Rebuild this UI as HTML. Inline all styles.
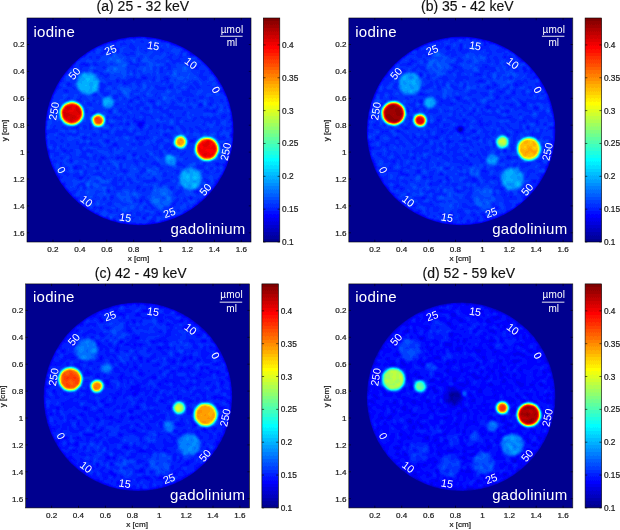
<!DOCTYPE html><html><head><meta charset="utf-8"><style>html,body{margin:0;padding:0;background:#fff;}body{width:620px;height:530px;overflow:hidden;}svg{display:block;will-change:transform;filter:blur(0.3px);}</style></head><body>
<svg width="620" height="530" viewBox="0 0 620 530">
<defs>
<filter id="jet" x="-5%" y="-5%" width="110%" height="110%" color-interpolation-filters="sRGB">
<feTurbulence type="fractalNoise" baseFrequency="0.3" numOctaves="1" seed="7" result="n"/>
<feColorMatrix in="n" type="matrix" values="0 0 0 0 1  1 0 0 0 0  0 0 0 0 0  0 0 0 0 1" result="n2"/>
<feComposite in="SourceGraphic" in2="n2" operator="arithmetic" k1="1" result="p"/>
<feColorMatrix in="SourceGraphic" type="matrix" values="0 0 0 0 0  0 0 0 0 0  0 1 0 0 0  0 0 0 0 1" result="bm"/>
<feComposite in="p" in2="bm" operator="arithmetic" k2="1" k3="1" result="q"/>
<feColorMatrix in="q" type="matrix" values="1 0.25 -0.125 0 0  1 0.25 -0.125 0 0  1 0.25 -0.125 0 0  0 0 0 0 1" result="r"/>
<feGaussianBlur in="r" stdDeviation="1.85"/>
<feComponentTransfer><feFuncR type="discrete" tableValues="0.0000 0.0000 0.0000 0.0000 0.0000 0.0000 0.0000 0.0000 0.0000 0.0000 0.0000 0.0000 0.0000 0.0000 0.0000 0.0000 0.0000 0.0000 0.0000 0.0000 0.0000 0.0000 0.0000 0.0000 0.0625 0.1250 0.1875 0.2500 0.3125 0.3750 0.4375 0.5000 0.5625 0.6250 0.6875 0.7500 0.8125 0.8750 0.9375 1.0000 1.0000 1.0000 1.0000 1.0000 1.0000 1.0000 1.0000 1.0000 1.0000 1.0000 1.0000 1.0000 1.0000 1.0000 1.0000 1.0000 0.9375 0.8750 0.8125 0.7500 0.6875 0.6250 0.5625 0.5000"/><feFuncG type="discrete" tableValues="0.0000 0.0000 0.0000 0.0000 0.0000 0.0000 0.0000 0.0000 0.0625 0.1250 0.1875 0.2500 0.3125 0.3750 0.4375 0.5000 0.5625 0.6250 0.6875 0.7500 0.8125 0.8750 0.9375 1.0000 1.0000 1.0000 1.0000 1.0000 1.0000 1.0000 1.0000 1.0000 1.0000 1.0000 1.0000 1.0000 1.0000 1.0000 1.0000 1.0000 0.9375 0.8750 0.8125 0.7500 0.6875 0.6250 0.5625 0.5000 0.4375 0.3750 0.3125 0.2500 0.1875 0.1250 0.0625 0.0000 0.0000 0.0000 0.0000 0.0000 0.0000 0.0000 0.0000 0.0000"/><feFuncB type="discrete" tableValues="0.5625 0.6250 0.6875 0.7500 0.8125 0.8750 0.9375 1.0000 1.0000 1.0000 1.0000 1.0000 1.0000 1.0000 1.0000 1.0000 1.0000 1.0000 1.0000 1.0000 1.0000 1.0000 1.0000 1.0000 0.9375 0.8750 0.8125 0.7500 0.6875 0.6250 0.5625 0.5000 0.4375 0.3750 0.3125 0.2500 0.1875 0.1250 0.0625 0.0000 0.0000 0.0000 0.0000 0.0000 0.0000 0.0000 0.0000 0.0000 0.0000 0.0000 0.0000 0.0000 0.0000 0.0000 0.0000 0.0000 0.0000 0.0000 0.0000 0.0000 0.0000 0.0000 0.0000 0.0000"/></feComponentTransfer>
</filter>
<filter id="jetc" x="0" y="0" width="1" height="1" color-interpolation-filters="sRGB">
<feComponentTransfer><feFuncR type="discrete" tableValues="0.0000 0.0000 0.0000 0.0000 0.0000 0.0000 0.0000 0.0000 0.0000 0.0000 0.0000 0.0000 0.0000 0.0000 0.0000 0.0000 0.0000 0.0000 0.0000 0.0000 0.0000 0.0000 0.0000 0.0000 0.0625 0.1250 0.1875 0.2500 0.3125 0.3750 0.4375 0.5000 0.5625 0.6250 0.6875 0.7500 0.8125 0.8750 0.9375 1.0000 1.0000 1.0000 1.0000 1.0000 1.0000 1.0000 1.0000 1.0000 1.0000 1.0000 1.0000 1.0000 1.0000 1.0000 1.0000 1.0000 0.9375 0.8750 0.8125 0.7500 0.6875 0.6250 0.5625 0.5000"/><feFuncG type="discrete" tableValues="0.0000 0.0000 0.0000 0.0000 0.0000 0.0000 0.0000 0.0000 0.0625 0.1250 0.1875 0.2500 0.3125 0.3750 0.4375 0.5000 0.5625 0.6250 0.6875 0.7500 0.8125 0.8750 0.9375 1.0000 1.0000 1.0000 1.0000 1.0000 1.0000 1.0000 1.0000 1.0000 1.0000 1.0000 1.0000 1.0000 1.0000 1.0000 1.0000 1.0000 0.9375 0.8750 0.8125 0.7500 0.6875 0.6250 0.5625 0.5000 0.4375 0.3750 0.3125 0.2500 0.1875 0.1250 0.0625 0.0000 0.0000 0.0000 0.0000 0.0000 0.0000 0.0000 0.0000 0.0000"/><feFuncB type="discrete" tableValues="0.5625 0.6250 0.6875 0.7500 0.8125 0.8750 0.9375 1.0000 1.0000 1.0000 1.0000 1.0000 1.0000 1.0000 1.0000 1.0000 1.0000 1.0000 1.0000 1.0000 1.0000 1.0000 1.0000 1.0000 0.9375 0.8750 0.8125 0.7500 0.6875 0.6250 0.5625 0.5000 0.4375 0.3750 0.3125 0.2500 0.1875 0.1250 0.0625 0.0000 0.0000 0.0000 0.0000 0.0000 0.0000 0.0000 0.0000 0.0000 0.0000 0.0000 0.0000 0.0000 0.0000 0.0000 0.0000 0.0000 0.0000 0.0000 0.0000 0.0000 0.0000 0.0000 0.0000 0.0000"/></feComponentTransfer>
</filter>
<linearGradient id="cbg" x1="0" y1="1" x2="0" y2="0"><stop offset="0" stop-color="#000"/><stop offset="1" stop-color="#fff"/></linearGradient>
<clipPath id="clp0"><rect x="27" y="18" width="224" height="224"/></clipPath>
<clipPath id="cir0"><circle cx="139.3" cy="130.9" r="94.3"/></clipPath>
<clipPath id="clp1"><rect x="348.8" y="18" width="224" height="224"/></clipPath>
<clipPath id="cir1"><circle cx="461.1" cy="130.9" r="94.3"/></clipPath>
<clipPath id="clp2"><rect x="25.6" y="283.9" width="224" height="224"/></clipPath>
<clipPath id="cir2"><circle cx="137.9" cy="396.8" r="94.3"/></clipPath>
<clipPath id="clp3"><rect x="348.8" y="283.9" width="224" height="224"/></clipPath>
<clipPath id="cir3"><circle cx="461.1" cy="396.8" r="94.3"/></clipPath>
</defs>
<g clip-path="url(#clp0)"><rect x="27" y="18" width="224" height="224" fill="#00008f"/><g clip-path="url(#cir0)"><g filter="url(#jet)">
<rect x="17" y="8" width="244" height="244" fill="#000"/>
<circle cx="139.3" cy="130.9" r="94.3" fill="#29ff00"/>
<circle cx="140.8" cy="123.2" r="4" fill="#1cff00"/>
<circle cx="71.79" cy="113.36" r="11.2" fill="#e6ff00"/>
<circle cx="98.29" cy="120.32" r="5.8" fill="#d0ff00"/>
<circle cx="207.01" cy="148.84" r="11.2" fill="#e0ff00"/>
<circle cx="180.51" cy="141.88" r="5.8" fill="#b7ff00"/>
<circle cx="88.03" cy="83.70" r="11.2" fill="#49ff00"/>
<circle cx="108.17" cy="102.28" r="5.8" fill="#47ff00"/>
<circle cx="116.64" cy="65.01" r="11.2" fill="#32ff00"/>
<circle cx="125.56" cy="90.92" r="5.8" fill="#31ff00"/>
<circle cx="150.70" cy="62.12" r="11.2" fill="#2eff00"/>
<circle cx="146.27" cy="89.16" r="5.8" fill="#2eff00"/>
<circle cx="182.05" cy="75.72" r="11.2" fill="#2eff00"/>
<circle cx="165.33" cy="97.43" r="5.8" fill="#2eff00"/>
<circle cx="203.21" cy="102.56" r="11.2" fill="#29ff00"/>
<circle cx="178.20" cy="113.75" r="5.8" fill="#29ff00"/>
<circle cx="190.52" cy="178.77" r="11.2" fill="#47ff00"/>
<circle cx="170.48" cy="160.08" r="5.8" fill="#44ff00"/>
<circle cx="161.81" cy="197.31" r="11.2" fill="#34ff00"/>
<circle cx="153.03" cy="171.36" r="5.8" fill="#31ff00"/>
<circle cx="127.74" cy="200.02" r="11.2" fill="#2eff00"/>
<circle cx="132.31" cy="173.00" r="5.8" fill="#2eff00"/>
<circle cx="96.46" cy="186.26" r="11.2" fill="#2eff00"/>
<circle cx="113.29" cy="164.64" r="5.8" fill="#2dff00"/>
<circle cx="75.44" cy="159.31" r="11.2" fill="#29ff00"/>
<circle cx="100.51" cy="148.25" r="5.8" fill="#29ff00"/>
</g></g></g>
<rect x="27" y="18" width="224" height="224" fill="none" stroke="#000" stroke-width="0.6"/>
<path d="M53.00 18 v2.2M53.00 242 v-2.2M27 44.50 h2.2M251 44.50 h-2.2M79.90 18 v2.2M79.90 242 v-2.2M27 71.40 h2.2M251 71.40 h-2.2M106.80 18 v2.2M106.80 242 v-2.2M27 98.30 h2.2M251 98.30 h-2.2M133.70 18 v2.2M133.70 242 v-2.2M27 125.20 h2.2M251 125.20 h-2.2M160.60 18 v2.2M160.60 242 v-2.2M27 152.10 h2.2M251 152.10 h-2.2M187.50 18 v2.2M187.50 242 v-2.2M27 179.00 h2.2M251 179.00 h-2.2M214.40 18 v2.2M214.40 242 v-2.2M27 205.90 h2.2M251 205.90 h-2.2M241.30 18 v2.2M241.30 242 v-2.2M27 232.80 h2.2M251 232.80 h-2.2" stroke="#000" stroke-width="0.6" fill="none"/>
<g font-family="Liberation Sans, sans-serif" fill="#fff" transform="translate(0 0)">
<text x="33.4" y="36.5" font-size="15" letter-spacing="0.28">iodine</text>
<text x="245.6" y="234" font-size="15" letter-spacing="0.26" text-anchor="end">gadolinium</text>
<text x="232" y="32.5" font-size="10" letter-spacing="0.2" text-anchor="middle">µmol</text>
<rect x="220.1" y="35.8" width="22.5" height="0.9" fill="#fff"/>
<text x="232" y="45.6" font-size="10" text-anchor="middle">ml</text>
<text transform="translate(53.80 111.10) rotate(-80)" font-size="10.8" text-anchor="middle" y="3.9">250</text>
<text transform="translate(74.20 73.40) rotate(-48.6)" font-size="10.8" text-anchor="middle" y="3.9">50</text>
<text transform="translate(110.40 49.80) rotate(-19.7)" font-size="10.8" text-anchor="middle" y="3.9">25</text>
<text transform="translate(153.40 45.60) rotate(9.2)" font-size="10.8" text-anchor="middle" y="3.9">15</text>
<text transform="translate(191.00 63.10) rotate(37.2)" font-size="10.8" text-anchor="middle" y="3.9">10</text>
<text transform="translate(216.00 89.70) rotate(61.6)" font-size="10.8" text-anchor="middle" y="3.9">0</text>
<text transform="translate(225.50 151.70) rotate(-78)" font-size="10.8" text-anchor="middle" y="3.9">250</text>
<text transform="translate(205.30 189.40) rotate(-48.4)" font-size="10.8" text-anchor="middle" y="3.9">50</text>
<text transform="translate(169.40 212.60) rotate(-20.1)" font-size="10.8" text-anchor="middle" y="3.9">25</text>
<text transform="translate(125.30 217.40) rotate(9.3)" font-size="10.8" text-anchor="middle" y="3.9">15</text>
<text transform="translate(86.60 201.00) rotate(37.1)" font-size="10.8" text-anchor="middle" y="3.9">10</text>
<text transform="translate(61.50 170.00) rotate(63.4)" font-size="10.8" text-anchor="middle" y="3.9">0</text>
</g>
<g font-family="Liberation Sans, sans-serif" fill="#1a1a1a" stroke="#1a1a1a" stroke-width="0.22" font-size="8.1">
<text x="53.00" y="252.3" text-anchor="middle">0.2</text>
<text x="24.6" y="47.40" text-anchor="end">0.2</text>
<text x="79.90" y="252.3" text-anchor="middle">0.4</text>
<text x="24.6" y="74.30" text-anchor="end">0.4</text>
<text x="106.80" y="252.3" text-anchor="middle">0.6</text>
<text x="24.6" y="101.20" text-anchor="end">0.6</text>
<text x="133.70" y="252.3" text-anchor="middle">0.8</text>
<text x="24.6" y="128.10" text-anchor="end">0.8</text>
<text x="160.60" y="252.3" text-anchor="middle">1</text>
<text x="24.6" y="155.00" text-anchor="end">1</text>
<text x="187.50" y="252.3" text-anchor="middle">1.2</text>
<text x="24.6" y="181.90" text-anchor="end">1.2</text>
<text x="214.40" y="252.3" text-anchor="middle">1.4</text>
<text x="24.6" y="208.80" text-anchor="end">1.4</text>
<text x="241.30" y="252.3" text-anchor="middle">1.6</text>
<text x="24.6" y="235.70" text-anchor="end">1.6</text>
<text x="138.5" y="261" text-anchor="middle">x [cm]</text>
<text transform="translate(6.8 130.5) rotate(-90)" text-anchor="middle">y [cm]</text>
</g>
<rect x="263.3" y="18" width="16.5" height="224" fill="url(#cbg)" filter="url(#jetc)"/>
<rect x="263.3" y="18" width="16.5" height="224" fill="none" stroke="#000" stroke-width="0.6"/>
<path d="M263.3 242.00 h2.2M279.8 242.00 h-2.2M263.3 209.16 h2.2M279.8 209.16 h-2.2M263.3 176.31 h2.2M279.8 176.31 h-2.2M263.3 143.47 h2.2M279.8 143.47 h-2.2M263.3 110.62 h2.2M279.8 110.62 h-2.2M263.3 77.78 h2.2M279.8 77.78 h-2.2M263.3 44.93 h2.2M279.8 44.93 h-2.2" stroke="#000" stroke-width="0.6"/>
<g font-family="Liberation Sans, sans-serif" fill="#1a1a1a" stroke="#1a1a1a" stroke-width="0.22" font-size="8.3"><text x="282.1" y="245.00">0.1</text><text x="282.1" y="212.16">0.15</text><text x="282.1" y="179.31">0.2</text><text x="282.1" y="146.47">0.25</text><text x="282.1" y="113.62">0.3</text><text x="282.1" y="80.78">0.35</text><text x="282.1" y="47.93">0.4</text></g>
<text x="96.6" y="10.6" font-family="Liberation Sans, sans-serif" font-size="14" fill="#111" stroke="#111" stroke-width="0.15">(a) 25 - 32 keV</text>
<g clip-path="url(#clp1)"><rect x="348.8" y="18" width="224" height="224" fill="#00008f"/><g clip-path="url(#cir1)"><g filter="url(#jet)">
<rect x="338.8" y="8" width="244" height="244" fill="#000"/>
<circle cx="461.1" cy="130.9" r="94.3" fill="#28ff00"/>
<circle cx="460.6" cy="129.5" r="3" fill="#00ff00"/>
<circle cx="393.59" cy="113.36" r="11.2" fill="#f8ff00"/>
<circle cx="420.09" cy="120.32" r="5.8" fill="#e8ff00"/>
<circle cx="528.81" cy="148.84" r="11.2" fill="#b0ff00"/>
<circle cx="502.31" cy="141.88" r="5.8" fill="#8eff00"/>
<circle cx="409.83" cy="83.70" r="11.2" fill="#45ff00"/>
<circle cx="429.97" cy="102.28" r="5.8" fill="#48ff00"/>
<circle cx="438.44" cy="65.01" r="11.2" fill="#31ff00"/>
<circle cx="447.36" cy="90.92" r="5.8" fill="#30ff00"/>
<circle cx="472.50" cy="62.12" r="11.2" fill="#2dff00"/>
<circle cx="468.07" cy="89.16" r="5.8" fill="#2cff00"/>
<circle cx="503.85" cy="75.72" r="11.2" fill="#2cff00"/>
<circle cx="487.13" cy="97.43" r="5.8" fill="#2bff00"/>
<circle cx="525.01" cy="102.56" r="11.2" fill="#28ff00"/>
<circle cx="500.00" cy="113.75" r="5.8" fill="#28ff00"/>
<circle cx="512.32" cy="178.77" r="11.2" fill="#46ff00"/>
<circle cx="492.28" cy="160.08" r="5.8" fill="#44ff00"/>
<circle cx="483.61" cy="197.31" r="11.2" fill="#31ff00"/>
<circle cx="474.83" cy="171.36" r="5.8" fill="#30ff00"/>
<circle cx="449.54" cy="200.02" r="11.2" fill="#2dff00"/>
<circle cx="454.11" cy="173.00" r="5.8" fill="#2cff00"/>
<circle cx="418.26" cy="186.26" r="11.2" fill="#2bff00"/>
<circle cx="435.09" cy="164.64" r="5.8" fill="#2bff00"/>
<circle cx="397.24" cy="159.31" r="11.2" fill="#28ff00"/>
<circle cx="422.31" cy="148.25" r="5.8" fill="#28ff00"/>
</g></g></g>
<rect x="348.8" y="18" width="224" height="224" fill="none" stroke="#000" stroke-width="0.6"/>
<path d="M374.80 18 v2.2M374.80 242 v-2.2M348.8 44.50 h2.2M572.8 44.50 h-2.2M401.70 18 v2.2M401.70 242 v-2.2M348.8 71.40 h2.2M572.8 71.40 h-2.2M428.60 18 v2.2M428.60 242 v-2.2M348.8 98.30 h2.2M572.8 98.30 h-2.2M455.50 18 v2.2M455.50 242 v-2.2M348.8 125.20 h2.2M572.8 125.20 h-2.2M482.40 18 v2.2M482.40 242 v-2.2M348.8 152.10 h2.2M572.8 152.10 h-2.2M509.30 18 v2.2M509.30 242 v-2.2M348.8 179.00 h2.2M572.8 179.00 h-2.2M536.20 18 v2.2M536.20 242 v-2.2M348.8 205.90 h2.2M572.8 205.90 h-2.2M563.10 18 v2.2M563.10 242 v-2.2M348.8 232.80 h2.2M572.8 232.80 h-2.2" stroke="#000" stroke-width="0.6" fill="none"/>
<g font-family="Liberation Sans, sans-serif" fill="#fff" transform="translate(0 0)">
<text x="355.2" y="36.5" font-size="15" letter-spacing="0.28">iodine</text>
<text x="567.4" y="234" font-size="15" letter-spacing="0.26" text-anchor="end">gadolinium</text>
<text x="553.8" y="32.5" font-size="10" letter-spacing="0.2" text-anchor="middle">µmol</text>
<rect x="541.9" y="35.8" width="22.5" height="0.9" fill="#fff"/>
<text x="553.8" y="45.6" font-size="10" text-anchor="middle">ml</text>
<text transform="translate(375.60 111.10) rotate(-80)" font-size="10.8" text-anchor="middle" y="3.9">250</text>
<text transform="translate(396.00 73.40) rotate(-48.6)" font-size="10.8" text-anchor="middle" y="3.9">50</text>
<text transform="translate(432.20 49.80) rotate(-19.7)" font-size="10.8" text-anchor="middle" y="3.9">25</text>
<text transform="translate(475.20 45.60) rotate(9.2)" font-size="10.8" text-anchor="middle" y="3.9">15</text>
<text transform="translate(512.80 63.10) rotate(37.2)" font-size="10.8" text-anchor="middle" y="3.9">10</text>
<text transform="translate(537.80 89.70) rotate(61.6)" font-size="10.8" text-anchor="middle" y="3.9">0</text>
<text transform="translate(547.30 151.70) rotate(-78)" font-size="10.8" text-anchor="middle" y="3.9">250</text>
<text transform="translate(527.10 189.40) rotate(-48.4)" font-size="10.8" text-anchor="middle" y="3.9">50</text>
<text transform="translate(491.20 212.60) rotate(-20.1)" font-size="10.8" text-anchor="middle" y="3.9">25</text>
<text transform="translate(447.10 217.40) rotate(9.3)" font-size="10.8" text-anchor="middle" y="3.9">15</text>
<text transform="translate(408.40 201.00) rotate(37.1)" font-size="10.8" text-anchor="middle" y="3.9">10</text>
<text transform="translate(383.30 170.00) rotate(63.4)" font-size="10.8" text-anchor="middle" y="3.9">0</text>
</g>
<g font-family="Liberation Sans, sans-serif" fill="#1a1a1a" stroke="#1a1a1a" stroke-width="0.22" font-size="8.1">
<text x="374.80" y="252.3" text-anchor="middle">0.2</text>
<text x="346.4" y="47.40" text-anchor="end">0.2</text>
<text x="401.70" y="252.3" text-anchor="middle">0.4</text>
<text x="346.4" y="74.30" text-anchor="end">0.4</text>
<text x="428.60" y="252.3" text-anchor="middle">0.6</text>
<text x="346.4" y="101.20" text-anchor="end">0.6</text>
<text x="455.50" y="252.3" text-anchor="middle">0.8</text>
<text x="346.4" y="128.10" text-anchor="end">0.8</text>
<text x="482.40" y="252.3" text-anchor="middle">1</text>
<text x="346.4" y="155.00" text-anchor="end">1</text>
<text x="509.30" y="252.3" text-anchor="middle">1.2</text>
<text x="346.4" y="181.90" text-anchor="end">1.2</text>
<text x="536.20" y="252.3" text-anchor="middle">1.4</text>
<text x="346.4" y="208.80" text-anchor="end">1.4</text>
<text x="563.10" y="252.3" text-anchor="middle">1.6</text>
<text x="346.4" y="235.70" text-anchor="end">1.6</text>
<text x="460.3" y="261" text-anchor="middle">x [cm]</text>
<text transform="translate(328.6 130.5) rotate(-90)" text-anchor="middle">y [cm]</text>
</g>
<rect x="585.1" y="18" width="16.5" height="224" fill="url(#cbg)" filter="url(#jetc)"/>
<rect x="585.1" y="18" width="16.5" height="224" fill="none" stroke="#000" stroke-width="0.6"/>
<path d="M585.1 242.00 h2.2M601.6 242.00 h-2.2M585.1 209.16 h2.2M601.6 209.16 h-2.2M585.1 176.31 h2.2M601.6 176.31 h-2.2M585.1 143.47 h2.2M601.6 143.47 h-2.2M585.1 110.62 h2.2M601.6 110.62 h-2.2M585.1 77.78 h2.2M601.6 77.78 h-2.2M585.1 44.93 h2.2M601.6 44.93 h-2.2" stroke="#000" stroke-width="0.6"/>
<g font-family="Liberation Sans, sans-serif" fill="#1a1a1a" stroke="#1a1a1a" stroke-width="0.22" font-size="8.3"><text x="603.9" y="245.00">0.1</text><text x="603.9" y="212.16">0.15</text><text x="603.9" y="179.31">0.2</text><text x="603.9" y="146.47">0.25</text><text x="603.9" y="113.62">0.3</text><text x="603.9" y="80.78">0.35</text><text x="603.9" y="47.93">0.4</text></g>
<text x="421" y="10.5" font-family="Liberation Sans, sans-serif" font-size="14" fill="#111" stroke="#111" stroke-width="0.15">(b) 35 - 42 keV</text>
<g clip-path="url(#clp2)"><rect x="25.6" y="283.9" width="224" height="224" fill="#00008f"/><g clip-path="url(#cir2)"><g filter="url(#jet)">
<rect x="15.6" y="273.9" width="244" height="244" fill="#000"/>
<circle cx="137.9" cy="396.8" r="94.3" fill="#24ff00"/>
<circle cx="135.3" cy="389.1" r="4" fill="#1bff00"/>
<circle cx="70.39" cy="379.26" r="11.2" fill="#cbff00"/>
<circle cx="96.89" cy="386.22" r="5.8" fill="#bfff00"/>
<circle cx="205.61" cy="414.74" r="11.2" fill="#b6ff00"/>
<circle cx="179.11" cy="407.78" r="5.8" fill="#90ff00"/>
<circle cx="86.63" cy="349.60" r="11.2" fill="#3bff00"/>
<circle cx="106.77" cy="368.18" r="5.8" fill="#3aff00"/>
<circle cx="115.24" cy="330.91" r="11.2" fill="#2bff00"/>
<circle cx="124.16" cy="356.82" r="5.8" fill="#2bff00"/>
<circle cx="149.30" cy="328.02" r="11.2" fill="#28ff00"/>
<circle cx="144.87" cy="355.06" r="5.8" fill="#28ff00"/>
<circle cx="180.65" cy="341.62" r="11.2" fill="#28ff00"/>
<circle cx="163.93" cy="363.33" r="5.8" fill="#27ff00"/>
<circle cx="201.81" cy="368.46" r="11.2" fill="#24ff00"/>
<circle cx="176.80" cy="379.65" r="5.8" fill="#24ff00"/>
<circle cx="189.12" cy="444.67" r="11.2" fill="#3eff00"/>
<circle cx="169.08" cy="425.98" r="5.8" fill="#3bff00"/>
<circle cx="160.41" cy="463.21" r="11.2" fill="#2eff00"/>
<circle cx="151.63" cy="437.26" r="5.8" fill="#2dff00"/>
<circle cx="126.34" cy="465.92" r="11.2" fill="#2aff00"/>
<circle cx="130.91" cy="438.90" r="5.8" fill="#29ff00"/>
<circle cx="95.06" cy="452.16" r="11.2" fill="#28ff00"/>
<circle cx="111.89" cy="430.54" r="5.8" fill="#28ff00"/>
<circle cx="74.04" cy="425.21" r="11.2" fill="#24ff00"/>
<circle cx="99.11" cy="414.15" r="5.8" fill="#24ff00"/>
</g></g></g>
<rect x="25.6" y="283.9" width="224" height="224" fill="none" stroke="#000" stroke-width="0.6"/>
<path d="M51.60 283.9 v2.2M51.60 507.9 v-2.2M25.6 310.40 h2.2M249.6 310.40 h-2.2M78.50 283.9 v2.2M78.50 507.9 v-2.2M25.6 337.30 h2.2M249.6 337.30 h-2.2M105.40 283.9 v2.2M105.40 507.9 v-2.2M25.6 364.20 h2.2M249.6 364.20 h-2.2M132.30 283.9 v2.2M132.30 507.9 v-2.2M25.6 391.10 h2.2M249.6 391.10 h-2.2M159.20 283.9 v2.2M159.20 507.9 v-2.2M25.6 418.00 h2.2M249.6 418.00 h-2.2M186.10 283.9 v2.2M186.10 507.9 v-2.2M25.6 444.90 h2.2M249.6 444.90 h-2.2M213.00 283.9 v2.2M213.00 507.9 v-2.2M25.6 471.80 h2.2M249.6 471.80 h-2.2M239.90 283.9 v2.2M239.90 507.9 v-2.2M25.6 498.70 h2.2M249.6 498.70 h-2.2" stroke="#000" stroke-width="0.6" fill="none"/>
<g font-family="Liberation Sans, sans-serif" fill="#fff" transform="translate(1 0)">
<text x="32" y="302.4" font-size="15" letter-spacing="0.28">iodine</text>
<text x="244.2" y="499.9" font-size="15" letter-spacing="0.26" text-anchor="end">gadolinium</text>
<text x="230.6" y="298.4" font-size="10" letter-spacing="0.2" text-anchor="middle">µmol</text>
<rect x="218.7" y="301.7" width="22.5" height="0.9" fill="#fff"/>
<text x="230.6" y="311.5" font-size="10" text-anchor="middle">ml</text>
<text transform="translate(52.40 377.00) rotate(-80)" font-size="10.8" text-anchor="middle" y="3.9">250</text>
<text transform="translate(72.80 339.30) rotate(-48.6)" font-size="10.8" text-anchor="middle" y="3.9">50</text>
<text transform="translate(109.00 315.70) rotate(-19.7)" font-size="10.8" text-anchor="middle" y="3.9">25</text>
<text transform="translate(152.00 311.50) rotate(9.2)" font-size="10.8" text-anchor="middle" y="3.9">15</text>
<text transform="translate(189.60 329.00) rotate(37.2)" font-size="10.8" text-anchor="middle" y="3.9">10</text>
<text transform="translate(214.60 355.60) rotate(61.6)" font-size="10.8" text-anchor="middle" y="3.9">0</text>
<text transform="translate(224.10 417.60) rotate(-78)" font-size="10.8" text-anchor="middle" y="3.9">250</text>
<text transform="translate(203.90 455.30) rotate(-48.4)" font-size="10.8" text-anchor="middle" y="3.9">50</text>
<text transform="translate(168.00 478.50) rotate(-20.1)" font-size="10.8" text-anchor="middle" y="3.9">25</text>
<text transform="translate(123.90 483.30) rotate(9.3)" font-size="10.8" text-anchor="middle" y="3.9">15</text>
<text transform="translate(85.20 466.90) rotate(37.1)" font-size="10.8" text-anchor="middle" y="3.9">10</text>
<text transform="translate(60.10 435.90) rotate(63.4)" font-size="10.8" text-anchor="middle" y="3.9">0</text>
</g>
<g font-family="Liberation Sans, sans-serif" fill="#1a1a1a" stroke="#1a1a1a" stroke-width="0.22" font-size="8.1">
<text x="51.60" y="518.2" text-anchor="middle">0.2</text>
<text x="23.2" y="313.30" text-anchor="end">0.2</text>
<text x="78.50" y="518.2" text-anchor="middle">0.4</text>
<text x="23.2" y="340.20" text-anchor="end">0.4</text>
<text x="105.40" y="518.2" text-anchor="middle">0.6</text>
<text x="23.2" y="367.10" text-anchor="end">0.6</text>
<text x="132.30" y="518.2" text-anchor="middle">0.8</text>
<text x="23.2" y="394.00" text-anchor="end">0.8</text>
<text x="159.20" y="518.2" text-anchor="middle">1</text>
<text x="23.2" y="420.90" text-anchor="end">1</text>
<text x="186.10" y="518.2" text-anchor="middle">1.2</text>
<text x="23.2" y="447.80" text-anchor="end">1.2</text>
<text x="213.00" y="518.2" text-anchor="middle">1.4</text>
<text x="23.2" y="474.70" text-anchor="end">1.4</text>
<text x="239.90" y="518.2" text-anchor="middle">1.6</text>
<text x="23.2" y="501.60" text-anchor="end">1.6</text>
<text x="137.1" y="526.9" text-anchor="middle">x [cm]</text>
<text transform="translate(5.4 396.4) rotate(-90)" text-anchor="middle">y [cm]</text>
</g>
<rect x="261.9" y="283.9" width="16.5" height="224" fill="url(#cbg)" filter="url(#jetc)"/>
<rect x="261.9" y="283.9" width="16.5" height="224" fill="none" stroke="#000" stroke-width="0.6"/>
<path d="M261.9 507.90 h2.2M278.4 507.90 h-2.2M261.9 475.06 h2.2M278.4 475.06 h-2.2M261.9 442.21 h2.2M278.4 442.21 h-2.2M261.9 409.37 h2.2M278.4 409.37 h-2.2M261.9 376.52 h2.2M278.4 376.52 h-2.2M261.9 343.68 h2.2M278.4 343.68 h-2.2M261.9 310.83 h2.2M278.4 310.83 h-2.2" stroke="#000" stroke-width="0.6"/>
<g font-family="Liberation Sans, sans-serif" fill="#1a1a1a" stroke="#1a1a1a" stroke-width="0.22" font-size="8.3"><text x="280.7" y="510.90">0.1</text><text x="280.7" y="478.06">0.15</text><text x="280.7" y="445.21">0.2</text><text x="280.7" y="412.37">0.25</text><text x="280.7" y="379.52">0.3</text><text x="280.7" y="346.68">0.35</text><text x="280.7" y="313.83">0.4</text></g>
<text x="94.8" y="278.3" font-family="Liberation Sans, sans-serif" font-size="14" fill="#111" stroke="#111" stroke-width="0.15">(c) 42 - 49 keV</text>
<g clip-path="url(#clp3)"><rect x="348.8" y="283.9" width="224" height="224" fill="#00008f"/><g clip-path="url(#cir3)"><g filter="url(#jet)">
<rect x="338.8" y="273.9" width="244" height="244" fill="#000"/>
<circle cx="461.1" cy="396.8" r="94.3" fill="#1fff00"/>
<circle cx="453.8" cy="396.7" r="10.5" fill="#19ff00"/>
<circle cx="453.8" cy="396.7" r="7.5" fill="#0dff00"/>
<circle cx="453.8" cy="396.4" r="4.5" fill="#00ff00"/>
<circle cx="464.3" cy="393.4" r="2.8" fill="#33ff00"/>
<circle cx="393.59" cy="379.26" r="11.2" fill="#8aff00"/>
<circle cx="420.09" cy="386.22" r="5.8" fill="#76ff00"/>
<circle cx="528.81" cy="414.74" r="11.2" fill="#f3ff00"/>
<circle cx="502.31" cy="407.78" r="5.8" fill="#cdff00"/>
<circle cx="409.83" cy="349.60" r="11.2" fill="#2eff00"/>
<circle cx="429.97" cy="368.18" r="5.8" fill="#2cff00"/>
<circle cx="438.44" cy="330.91" r="11.2" fill="#25ff00"/>
<circle cx="447.36" cy="356.82" r="5.8" fill="#24ff00"/>
<circle cx="472.50" cy="328.02" r="11.2" fill="#22ff00"/>
<circle cx="468.07" cy="355.06" r="5.8" fill="#22ff00"/>
<circle cx="503.85" cy="341.62" r="11.2" fill="#22ff00"/>
<circle cx="487.13" cy="363.33" r="5.8" fill="#21ff00"/>
<circle cx="525.01" cy="368.46" r="11.2" fill="#1fff00"/>
<circle cx="500.00" cy="379.65" r="5.8" fill="#1fff00"/>
<circle cx="512.32" cy="444.67" r="11.2" fill="#40ff00"/>
<circle cx="492.28" cy="425.98" r="5.8" fill="#38ff00"/>
<circle cx="483.61" cy="463.21" r="11.2" fill="#31ff00"/>
<circle cx="474.83" cy="437.26" r="5.8" fill="#2eff00"/>
<circle cx="449.54" cy="465.92" r="11.2" fill="#2bff00"/>
<circle cx="454.11" cy="438.90" r="5.8" fill="#28ff00"/>
<circle cx="418.26" cy="452.16" r="11.2" fill="#27ff00"/>
<circle cx="435.09" cy="430.54" r="5.8" fill="#25ff00"/>
<circle cx="397.24" cy="425.21" r="11.2" fill="#20ff00"/>
<circle cx="422.31" cy="414.15" r="5.8" fill="#20ff00"/>
</g></g></g>
<rect x="348.8" y="283.9" width="224" height="224" fill="none" stroke="#000" stroke-width="0.6"/>
<path d="M374.80 283.9 v2.2M374.80 507.9 v-2.2M348.8 310.40 h2.2M572.8 310.40 h-2.2M401.70 283.9 v2.2M401.70 507.9 v-2.2M348.8 337.30 h2.2M572.8 337.30 h-2.2M428.60 283.9 v2.2M428.60 507.9 v-2.2M348.8 364.20 h2.2M572.8 364.20 h-2.2M455.50 283.9 v2.2M455.50 507.9 v-2.2M348.8 391.10 h2.2M572.8 391.10 h-2.2M482.40 283.9 v2.2M482.40 507.9 v-2.2M348.8 418.00 h2.2M572.8 418.00 h-2.2M509.30 283.9 v2.2M509.30 507.9 v-2.2M348.8 444.90 h2.2M572.8 444.90 h-2.2M536.20 283.9 v2.2M536.20 507.9 v-2.2M348.8 471.80 h2.2M572.8 471.80 h-2.2M563.10 283.9 v2.2M563.10 507.9 v-2.2M348.8 498.70 h2.2M572.8 498.70 h-2.2" stroke="#000" stroke-width="0.6" fill="none"/>
<g font-family="Liberation Sans, sans-serif" fill="#fff" transform="translate(0 0)">
<text x="355.2" y="302.4" font-size="15" letter-spacing="0.28">iodine</text>
<text x="567.4" y="499.9" font-size="15" letter-spacing="0.26" text-anchor="end">gadolinium</text>
<text x="553.8" y="298.4" font-size="10" letter-spacing="0.2" text-anchor="middle">µmol</text>
<rect x="541.9" y="301.7" width="22.5" height="0.9" fill="#fff"/>
<text x="553.8" y="311.5" font-size="10" text-anchor="middle">ml</text>
<text transform="translate(375.60 377.00) rotate(-80)" font-size="10.8" text-anchor="middle" y="3.9">250</text>
<text transform="translate(396.00 339.30) rotate(-48.6)" font-size="10.8" text-anchor="middle" y="3.9">50</text>
<text transform="translate(432.20 315.70) rotate(-19.7)" font-size="10.8" text-anchor="middle" y="3.9">25</text>
<text transform="translate(475.20 311.50) rotate(9.2)" font-size="10.8" text-anchor="middle" y="3.9">15</text>
<text transform="translate(512.80 329.00) rotate(37.2)" font-size="10.8" text-anchor="middle" y="3.9">10</text>
<text transform="translate(537.80 355.60) rotate(61.6)" font-size="10.8" text-anchor="middle" y="3.9">0</text>
<text transform="translate(547.30 417.60) rotate(-78)" font-size="10.8" text-anchor="middle" y="3.9">250</text>
<text transform="translate(527.10 455.30) rotate(-48.4)" font-size="10.8" text-anchor="middle" y="3.9">50</text>
<text transform="translate(491.20 478.50) rotate(-20.1)" font-size="10.8" text-anchor="middle" y="3.9">25</text>
<text transform="translate(447.10 483.30) rotate(9.3)" font-size="10.8" text-anchor="middle" y="3.9">15</text>
<text transform="translate(408.40 466.90) rotate(37.1)" font-size="10.8" text-anchor="middle" y="3.9">10</text>
<text transform="translate(383.30 435.90) rotate(63.4)" font-size="10.8" text-anchor="middle" y="3.9">0</text>
</g>
<g font-family="Liberation Sans, sans-serif" fill="#1a1a1a" stroke="#1a1a1a" stroke-width="0.22" font-size="8.1">
<text x="374.80" y="518.2" text-anchor="middle">0.2</text>
<text x="346.4" y="313.30" text-anchor="end">0.2</text>
<text x="401.70" y="518.2" text-anchor="middle">0.4</text>
<text x="346.4" y="340.20" text-anchor="end">0.4</text>
<text x="428.60" y="518.2" text-anchor="middle">0.6</text>
<text x="346.4" y="367.10" text-anchor="end">0.6</text>
<text x="455.50" y="518.2" text-anchor="middle">0.8</text>
<text x="346.4" y="394.00" text-anchor="end">0.8</text>
<text x="482.40" y="518.2" text-anchor="middle">1</text>
<text x="346.4" y="420.90" text-anchor="end">1</text>
<text x="509.30" y="518.2" text-anchor="middle">1.2</text>
<text x="346.4" y="447.80" text-anchor="end">1.2</text>
<text x="536.20" y="518.2" text-anchor="middle">1.4</text>
<text x="346.4" y="474.70" text-anchor="end">1.4</text>
<text x="563.10" y="518.2" text-anchor="middle">1.6</text>
<text x="346.4" y="501.60" text-anchor="end">1.6</text>
<text x="460.3" y="526.9" text-anchor="middle">x [cm]</text>
<text transform="translate(328.6 396.4) rotate(-90)" text-anchor="middle">y [cm]</text>
</g>
<rect x="585.1" y="283.9" width="16.5" height="224" fill="url(#cbg)" filter="url(#jetc)"/>
<rect x="585.1" y="283.9" width="16.5" height="224" fill="none" stroke="#000" stroke-width="0.6"/>
<path d="M585.1 507.90 h2.2M601.6 507.90 h-2.2M585.1 475.06 h2.2M601.6 475.06 h-2.2M585.1 442.21 h2.2M601.6 442.21 h-2.2M585.1 409.37 h2.2M601.6 409.37 h-2.2M585.1 376.52 h2.2M601.6 376.52 h-2.2M585.1 343.68 h2.2M601.6 343.68 h-2.2M585.1 310.83 h2.2M601.6 310.83 h-2.2" stroke="#000" stroke-width="0.6"/>
<g font-family="Liberation Sans, sans-serif" fill="#1a1a1a" stroke="#1a1a1a" stroke-width="0.22" font-size="8.3"><text x="603.9" y="510.90">0.1</text><text x="603.9" y="478.06">0.15</text><text x="603.9" y="445.21">0.2</text><text x="603.9" y="412.37">0.25</text><text x="603.9" y="379.52">0.3</text><text x="603.9" y="346.68">0.35</text><text x="603.9" y="313.83">0.4</text></g>
<text x="422.6" y="278.4" font-family="Liberation Sans, sans-serif" font-size="14" fill="#111" stroke="#111" stroke-width="0.15">(d) 52 - 59 keV</text>
</svg></body></html>
